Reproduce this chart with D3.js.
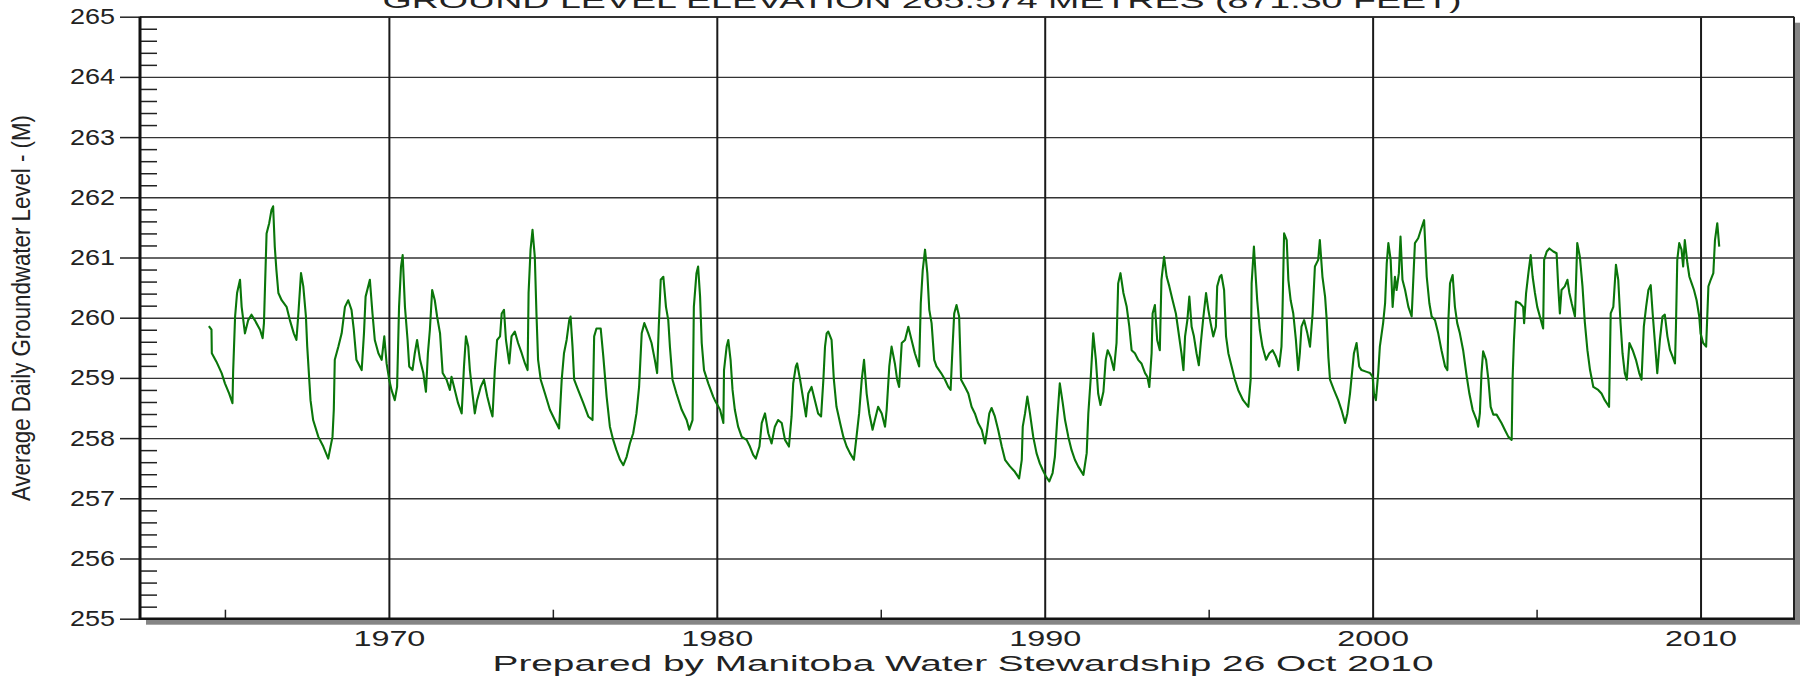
<!DOCTYPE html>
<html>
<head>
<meta charset="utf-8">
<script src="https://cdn.jsdelivr.net/npm/d3@7"></script>
<style>
  body { margin: 0; background: #fff; }
  svg { display: block; }
</style>
</head>
<body>
<svg id="chart" width="1805" height="678"></svg>
<script>
// groundwater level readings [decimal year, metres]
const levels1960s = [
  [1964.51,259.86],[1964.59,259.80],[1964.60,259.41],[1964.74,259.27],[1964.90,259.08],[1965.00,258.91],[1965.13,258.74],[1965.23,258.58],[1965.25,259.10],[1965.31,260.02],[1965.37,260.41],[1965.46,260.63],[1965.51,260.18],[1965.61,259.74],[1965.71,259.96],[1965.81,260.05],[1965.91,259.96],[1966.07,259.80],[1966.15,259.66],[1966.19,259.91],[1966.27,261.40],[1966.35,261.57],[1966.42,261.79],[1966.47,261.85],[1966.52,261.18],[1966.57,260.79],[1966.63,260.41],[1966.73,260.29],[1966.88,260.18],[1966.98,259.96],[1967.10,259.74],[1967.18,259.63],[1967.24,260.07],[1967.32,260.74],[1967.39,260.52],[1967.47,260.02],[1967.51,259.52],[1967.61,258.63],[1967.69,258.30],[1967.85,258.02],[1968.00,257.86],[1968.15,257.66],[1968.28,258.02],[1968.32,258.47],[1968.35,259.30],[1968.46,259.52],[1968.56,259.74],[1968.66,260.18],[1968.76,260.29],[1968.86,260.13],[1968.93,259.80],[1969.01,259.30],[1969.17,259.13],[1969.24,259.74],[1969.29,260.35],[1969.42,260.63],[1969.50,260.07],[1969.57,259.63],[1969.68,259.41],[1969.78,259.30],[1969.86,259.69],[1969.93,259.24]
];
const levels1970s = [
  [1970.01,258.97],[1970.08,258.80],[1970.18,258.63],[1970.25,258.85],[1970.31,260.18],[1970.37,260.85],[1970.42,261.04],[1970.49,260.18],[1970.57,259.63],[1970.62,259.19],[1970.72,259.13],[1970.79,259.41],[1970.86,259.63],[1970.95,259.30],[1971.05,259.08],[1971.13,258.77],[1971.19,259.41],[1971.25,259.80],[1971.32,260.46],[1971.40,260.29],[1971.47,260.02],[1971.56,259.74],[1971.64,259.08],[1971.76,258.97],[1971.86,258.80],
  [1971.91,259.02],[1972.01,258.80],[1972.11,258.58],[1972.22,258.41],[1972.29,259.19],[1972.35,259.69],[1972.42,259.52],[1972.47,259.13],[1972.55,258.74],[1972.62,258.41],[1972.69,258.63],[1972.80,258.85],[1972.90,258.97],[1973.00,258.69],[1973.10,258.47],[1973.16,258.36],[1973.23,259.13],[1973.30,259.63],[1973.39,259.69],[1973.44,260.07],[1973.51,260.13],[1973.57,259.63],[1973.67,259.24],[1973.74,259.69],[1973.84,259.77],[1973.94,259.58],[1974.05,259.41],[1974.15,259.24],[1974.23,259.13],[1974.26,260.41],[1974.32,261.13],[1974.38,261.46],[1974.45,261.01],[1974.50,260.07],[1974.55,259.30],[1974.63,258.97],[1974.76,258.74],[1974.91,258.47],[1975.06,258.30],[1975.19,258.16],[1975.27,258.97],[1975.34,259.41],[1975.42,259.63],[1975.50,259.96],[1975.54,260.02],[1975.60,259.52],[1975.65,258.97],[1975.77,258.80],[1975.93,258.58],[1976.08,258.36],[1976.21,258.30],[1976.26,259.69],[1976.33,259.82],[1976.46,259.82],[1976.54,259.35],[1976.64,258.69],[1976.74,258.19],[1976.84,257.97],[1976.94,257.80],[1977.05,257.64],[1977.15,257.55],[1977.25,257.69],[1977.35,257.91],[1977.45,258.08],[1977.55,258.41],[1977.63,258.85],[1977.71,259.74],[1977.79,259.91],[1977.91,259.74],[1978.01,259.58],[1978.11,259.30],[1978.18,259.08],[1978.23,259.85],[1978.29,260.63],[1978.37,260.68],[1978.45,260.18],[1978.52,259.96],[1978.57,259.52],[1978.65,258.97],[1978.77,258.74],[1978.93,258.47],[1979.08,258.30],[1979.16,258.14],[1979.26,258.30],[1979.30,260.18],[1979.38,260.74],[1979.43,260.85],[1979.49,260.35],[1979.54,259.58],[1979.61,259.13],[1979.74,258.91],[1979.89,258.69],[1979.94,258.63]
];
const levels1980s = [
  [1980.10,258.47],[1980.20,258.25],[1980.22,259.13],[1980.30,259.52],[1980.35,259.63],[1980.42,259.30],[1980.48,258.80],[1980.55,258.47],[1980.65,258.19],[1980.76,258.02],[1980.91,257.97],[1981.01,257.86],[1981.11,257.72],[1981.19,257.66],[1981.30,257.86],[1981.37,258.25],[1981.47,258.41],[1981.57,258.08],[1981.67,257.91],[1981.77,258.19],[1981.87,258.30],[1981.98,258.25],[1982.08,257.97],[1982.20,257.86],[1982.28,258.36],[1982.33,258.91],[1982.41,259.19],[1982.45,259.24],[1982.54,258.97],[1982.64,258.63],[1982.72,258.36],[1982.79,258.74],[1982.89,258.85],[1982.99,258.63],[1983.09,258.41],[1983.18,258.36],[1983.25,258.97],[1983.30,259.52],[1983.35,259.74],[1983.40,259.77],[1983.50,259.63],[1983.57,258.97],[1983.65,258.52],[1983.76,258.25],[1983.86,258.02],[1983.96,257.86],[1984.06,257.75],[1984.18,257.64],[1984.26,258.02],[1984.34,258.41],[1984.42,258.97],[1984.49,259.30],[1984.57,258.74],[1984.65,258.41],[1984.75,258.14],[1984.82,258.30],[1984.92,258.52],[1985.03,258.41],[1985.13,258.19],[1985.18,258.47],[1985.26,259.19],[1985.33,259.52],[1985.43,259.24],[1985.50,258.97],[1985.56,258.85],[1985.64,259.58],[1985.74,259.63],[1985.84,259.85],[1985.94,259.63],[1986.04,259.41],[1986.17,259.19],[1986.22,260.24],[1986.28,260.79],[1986.35,261.13],[1986.42,260.74],[1986.48,260.13],[1986.55,259.91],[1986.63,259.30],[1986.70,259.19],[1986.84,259.08],[1986.96,258.97],[1987.06,258.85],[1987.13,258.80],[1987.19,259.52],[1987.24,260.07],[1987.31,260.21],[1987.39,260.02],[1987.45,258.97],[1987.57,258.85],[1987.67,258.74],[1987.77,258.52],[1987.87,258.41],[1987.97,258.25],[1988.08,258.14],[1988.18,257.91],[1988.23,258.08],[1988.31,258.41],[1988.38,258.50],[1988.48,258.36],[1988.58,258.14],[1988.69,257.86],[1988.79,257.64],[1988.94,257.53],[1989.09,257.44],[1989.22,257.33],[1989.30,257.64],[1989.33,258.19],[1989.40,258.41],[1989.47,258.69],[1989.55,258.41],[1989.65,258.02],[1989.75,257.75],[1989.85,257.58],[1989.94,257.47]
];
const levels1990s = [
  [1990.04,257.36],[1990.14,257.28],[1990.24,257.42],[1990.31,257.69],[1990.38,258.30],[1990.46,258.91],[1990.55,258.58],[1990.62,258.30],[1990.72,258.02],[1990.82,257.80],[1990.92,257.64],[1991.02,257.53],[1991.18,257.39],[1991.28,257.75],[1991.33,258.41],[1991.40,258.97],[1991.48,259.74],[1991.56,259.30],[1991.63,258.74],[1991.70,258.55],[1991.79,258.77],[1991.86,259.30],[1991.92,259.46],[1992.01,259.35],[1992.11,259.13],[1992.19,259.58],[1992.24,260.57],[1992.31,260.74],[1992.40,260.41],[1992.50,260.18],[1992.58,259.85],[1992.65,259.46],[1992.75,259.41],[1992.85,259.30],[1992.95,259.24],[1993.06,259.08],[1993.13,259.02],[1993.19,258.85],[1993.26,259.41],[1993.29,260.07],[1993.36,260.21],[1993.43,259.63],[1993.51,259.46],[1993.56,260.63],[1993.64,261.01],[1993.72,260.68],[1993.80,260.52],[1993.90,260.29],[1994.00,260.07],[1994.07,259.80],[1994.17,259.41],[1994.23,259.13],[1994.28,259.69],[1994.35,259.96],[1994.41,260.35],[1994.48,259.85],[1994.55,259.69],[1994.63,259.41],[1994.70,259.21],[1994.76,259.58],[1994.84,260.02],[1994.92,260.41],[1994.99,260.13],[1995.06,259.91],[1995.14,259.69],[1995.22,259.85],[1995.26,260.52],[1995.34,260.68],[1995.39,260.71],[1995.47,260.46],[1995.53,259.69],[1995.60,259.41],[1995.70,259.19],[1995.80,258.97],[1995.90,258.80],[1996.05,258.63],[1996.21,258.52],[1996.28,258.97],[1996.31,260.57],[1996.38,261.18],[1996.44,260.63],[1996.48,260.29],[1996.56,259.80],[1996.64,259.52],[1996.75,259.30],[1996.85,259.41],[1996.95,259.46],[1997.05,259.35],[1997.15,259.19],[1997.22,259.52],[1997.25,260.07],[1997.30,261.40],[1997.38,261.29],[1997.43,260.63],[1997.50,260.29],[1997.58,260.07],[1997.66,259.63],[1997.73,259.13],[1997.78,259.41],[1997.83,259.85],[1997.91,259.96],[1998.01,259.74],[1998.09,259.52],[1998.17,260.07],[1998.24,260.85],[1998.34,260.96],[1998.39,261.29],[1998.47,260.68],[1998.55,260.35],[1998.60,259.96],[1998.65,259.35],[1998.70,258.97],[1998.82,258.80],[1998.95,258.63],[1999.05,258.47],[1999.16,258.25],[1999.23,258.41],[1999.31,258.74],[1999.36,259.02],[1999.43,259.41],[1999.51,259.58],[1999.59,259.19],[1999.66,259.13],[1999.82,259.10],[1999.92,259.08]
];
const levels2000s = [
  [2000.00,259.02],[2000.04,258.74],[2000.10,258.63],[2000.17,259.08],[2000.22,259.52],[2000.32,259.91],[2000.38,260.24],[2000.43,260.90],[2000.48,261.24],[2000.55,260.96],[2000.61,260.18],[2000.68,260.68],[2000.73,260.46],[2000.80,260.74],[2000.85,261.35],[2000.91,260.63],[2000.99,260.46],[2001.09,260.18],[2001.19,260.02],[2001.24,260.63],[2001.29,261.24],[2001.39,261.32],[2001.49,261.49],[2001.57,261.62],[2001.65,260.68],[2001.73,260.24],[2001.80,260.02],[2001.90,259.96],[2002.00,259.74],[2002.10,259.46],[2002.21,259.19],[2002.28,259.13],[2002.31,259.96],[2002.36,260.57],[2002.44,260.71],[2002.51,260.18],[2002.58,259.91],[2002.66,259.74],[2002.76,259.46],[2002.87,259.02],[2002.95,258.74],[2003.05,258.47],[2003.17,258.30],[2003.22,258.19],[2003.27,258.41],[2003.32,259.08],[2003.37,259.44],[2003.46,259.30],[2003.53,258.97],[2003.60,258.52],[2003.68,258.39],[2003.78,258.39],[2003.93,258.25],[2004.03,258.14],[2004.14,258.02],[2004.24,257.97],[2004.27,259.02],[2004.31,259.63],[2004.37,260.27],[2004.49,260.24],[2004.59,260.18],[2004.62,259.91],[2004.68,260.41],[2004.75,260.74],[2004.82,261.04],[2004.88,260.68],[2004.95,260.41],[2005.02,260.18],[2005.10,260.02],[2005.20,259.82],[2005.23,260.96],[2005.31,261.10],[2005.39,261.15],[2005.51,261.10],[2005.61,261.07],[2005.66,260.52],[2005.71,260.07],[2005.76,260.46],[2005.86,260.52],[2005.94,260.63],[2006.00,260.41],[2006.07,260.24],[2006.17,260.02],[2006.24,261.24],[2006.32,261.01],[2006.40,260.52],[2006.47,259.93],[2006.55,259.46],[2006.63,259.13],[2006.73,258.85],[2006.88,258.80],[2006.98,258.74],[2007.08,258.63],[2007.21,258.52],[2007.26,260.07],[2007.34,260.18],[2007.42,260.88],[2007.49,260.63],[2007.56,259.91],[2007.62,259.41],[2007.69,259.08],[2007.75,258.97],[2007.83,259.58],[2007.93,259.46],[2008.03,259.30],[2008.13,259.08],[2008.20,258.97],[2008.27,259.85],[2008.34,260.18],[2008.41,260.46],[2008.48,260.54],[2008.54,260.07],[2008.61,259.58],[2008.68,259.08],[2008.76,259.63],[2008.84,260.02],[2008.91,260.05],[2008.99,259.69],[2009.07,259.46],[2009.15,259.35],[2009.22,259.24],[2009.25,259.85],[2009.29,260.96],[2009.35,261.24],[2009.42,261.13],[2009.47,260.85],[2009.52,261.29],[2009.60,260.90],[2009.66,260.68],[2009.73,260.57],[2009.80,260.46],[2009.88,260.29],[2009.96,260.02]
];
const levels2010s = [
  [2010.00,259.74],[2010.08,259.58],[2010.17,259.52],[2010.24,260.52],[2010.31,260.63],[2010.39,260.74],[2010.44,261.29],[2010.51,261.57],[2010.57,261.18]
];

const yTicks = [255, 256, 257, 258, 259, 260, 261, 262, 263, 264, 265];
const xTicks = [1970, 1980, 1990, 2000, 2010];
const xMinorTicks = [1965, 1975, 1985, 1995, 2005];
const titleText = "GROUND LEVEL ELEVATION 265.574 METRES (871.30 FEET)";
const yTitle = "Average Daily Groundwater Level -  (M)";
const footerText = "Prepared by Manitoba Water Stewardship 26 Oct 2010";

const series = [].concat(levels1960s, levels1970s, levels1980s, levels1990s, levels2000s, levels2010s);

const plotL = 140, plotR = 1794, plotT = 16.7, plotB = 618.7;
const font = "'Liberation Sans', Arial, sans-serif";
const svg = d3.select('#chart');

let x = d3.scaleLinear().domain([1962.41, 2012.85]).range([plotL, plotR]);
let y = d3.scaleLinear().domain([255, 265]).range([plotB, plotT]);

// drop shadow + plot background
svg.append('rect').attr('x', plotL + 6).attr('y', plotT + 6)
  .attr('width', plotR - plotL).attr('height', plotB - plotT)
  .attr('fill', '#858585');
svg.append('rect').attr('x', plotL).attr('y', plotT)
  .attr('width', plotR - plotL).attr('height', plotB - plotT)
  .attr('fill', '#fff');

// horizontal grid
let yGrid = d3.axisLeft(y).tickValues(yTicks).tickSize(-(plotR - plotL)).tickFormat('');
svg.append('g').attr('id', 'yGridG').attr('transform', `translate(${plotL},0)`).call(yGrid);

// vertical grid + year labels
let xAxis = d3.axisBottom(x).tickValues(xTicks).tickSize(-(plotB - plotT)).tickPadding(12).tickFormat(d3.format('d'));
svg.append('g').attr('id', 'xAxisG').attr('transform', `translate(0,${plotB})`).call(xAxis);

// minor ticks
let yMinor = d3.range(255, 265, 0.2).filter(v => Math.abs(v - Math.round(v)) > 0.01);
svg.append('g').attr('id', 'yMinorG').attr('transform', `translate(${plotL},0)`)
  .call(d3.axisRight(y).tickValues(yMinor).tickSize(17).tickFormat(''));
svg.append('g').attr('id', 'xMinorG').attr('transform', `translate(0,${plotB})`)
  .call(d3.axisTop(x).tickValues(xMinorTicks).tickSize(9).tickFormat(''));

// outer ticks + value labels on the left
let yAxis = d3.axisLeft(y).tickValues(yTicks).tickSize(20).tickPadding(5).tickFormat(d3.format('d'));
svg.append('g').attr('id', 'yAxisG').attr('transform', `translate(${plotL},0)`).call(yAxis);

svg.selectAll('.domain').remove();
svg.selectAll('#yGridG line').attr('stroke', '#333').attr('stroke-width', 1.4);
svg.selectAll('#xAxisG line').attr('stroke', '#1a1a1a').attr('stroke-width', 2);
svg.selectAll('#yMinorG line, #xMinorG line, #yAxisG line').attr('stroke', '#222').attr('stroke-width', 1.5);

svg.selectAll('#xAxisG text')
  .attr('font-family', font).attr('font-size', 22).attr('fill', '#222')
  .attr('textLength', 72).attr('lengthAdjust', 'spacingAndGlyphs');
svg.selectAll('#yAxisG text')
  .attr('font-family', font).attr('font-size', 22).attr('fill', '#222')
  .attr('textLength', 45).attr('lengthAdjust', 'spacingAndGlyphs');

// frame
svg.append('line').attr('x1', plotL).attr('x2', plotR).attr('y1', plotT).attr('y2', plotT)
  .attr('stroke', '#333').attr('stroke-width', 1.5);
svg.append('line').attr('x1', plotR).attr('x2', plotR).attr('y1', plotT).attr('y2', plotB)
  .attr('stroke', '#222').attr('stroke-width', 2);
svg.append('line').attr('x1', plotL).attr('x2', plotR + 1).attr('y1', plotB).attr('y2', plotB)
  .attr('stroke', '#111').attr('stroke-width', 2.5);
svg.append('line').attr('x1', plotL).attr('x2', plotL).attr('y1', plotT).attr('y2', plotB + 1)
  .attr('stroke', '#111').attr('stroke-width', 3);

// the series
let line = d3.line().x(d => x(d[0])).y(d => y(d[1]));
svg.append('path').datum(series)
  .attr('d', line)
  .attr('fill', 'none')
  .attr('stroke', '#0a760a')
  .attr('stroke-width', 2.1)
  .attr('stroke-linejoin', 'round');

// texts
svg.append('text').attr('x', 922).attr('y', 8)
  .attr('text-anchor', 'middle').attr('font-family', font).attr('font-size', 22).attr('fill', '#222')
  .attr('textLength', 1079).attr('lengthAdjust', 'spacingAndGlyphs')
  .text(titleText);

svg.append('text').attr('x', 963).attr('y', 671)
  .attr('text-anchor', 'middle').attr('font-family', font).attr('font-size', 22).attr('fill', '#222')
  .attr('textLength', 941).attr('lengthAdjust', 'spacingAndGlyphs')
  .text(footerText);

svg.append('text')
  .attr('transform', 'translate(30,308) rotate(-90)')
  .attr('text-anchor', 'middle')
  .attr('font-family', "'Liberation Sans Narrow', 'Liberation Sans', Arial, sans-serif")
  .attr('font-size', 25).attr('fill', '#222')
  .attr('textLength', 386).attr('lengthAdjust', 'spacingAndGlyphs')
  .text(yTitle);
</script>
</body>
</html>
